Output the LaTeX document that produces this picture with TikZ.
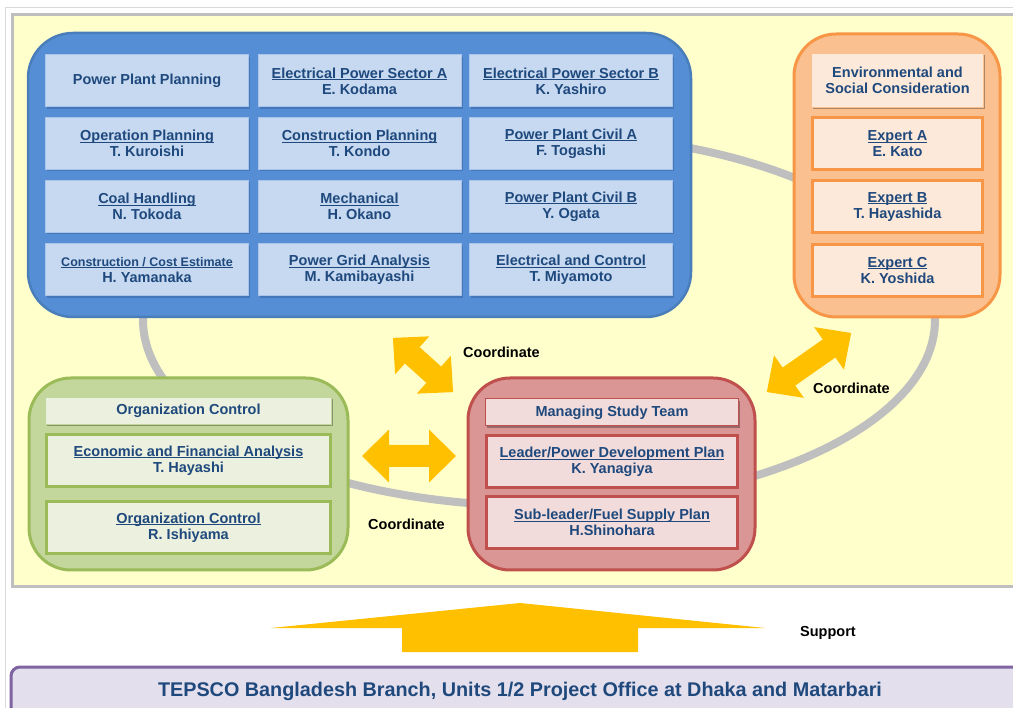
\documentclass[tikz,border=0pt]{standalone}
\usepackage{fontspec}
\setmainfont{Liberation Sans}
\usetikzlibrary{shadows}
\definecolor{tx}{HTML}{1F497D}
\definecolor{panelc}{HTML}{FFFFCC}
\definecolor{panelb}{HTML}{BFBFBF}
\definecolor{framec}{HTML}{D9D9D9}
\definecolor{ringc}{HTML}{BFBFBF}
\definecolor{bluef}{HTML}{558ED5}
\definecolor{blueb}{HTML}{4A7EBB}
\definecolor{bluec}{HTML}{C6D9F1}
\definecolor{bluecb}{HTML}{A9C4E8}
\definecolor{blues}{HTML}{3A66A8}
\definecolor{orf}{HTML}{FAC090}
\definecolor{orb}{HTML}{F79646}
\definecolor{orc}{HTML}{FDE9D9}
\definecolor{grf}{HTML}{C3D69B}
\definecolor{grb}{HTML}{9BBB59}
\definecolor{grc}{HTML}{EBF1DE}
\definecolor{rdf}{HTML}{D99694}
\definecolor{rdb}{HTML}{C0504D}
\definecolor{rdc}{HTML}{F2DCDB}
\definecolor{arrowc}{HTML}{FFC000}
\definecolor{purf}{HTML}{E4DFEC}
\definecolor{purb}{HTML}{8064A2}
\newcommand\cellf{\fontsize{14.5}{16}\selectfont\bfseries}
\newcommand\ulin[1]{\setbox0=\hbox{#1}\rlap{\rule[-1.8pt]{\wd0}{0.9pt}}\box0}
\newcommand\dblarr[7]{%
  \fill[arrowc, shift={(#1,#2)}, rotate=#3]
  ({-(#4)/2},0) -- ({-(#4)/2+#7},#6) -- ({-(#4)/2+#7},#5) -- ({(#4)/2-#7},#5)
  -- ({(#4)/2-#7},#6) -- ({(#4)/2},0) -- ({(#4)/2-#7},-#6) -- ({(#4)/2-#7},-#5)
  -- ({-(#4)/2+#7},-#5) -- ({-(#4)/2+#7},-#6) -- cycle;}
\tikzset{
  grp/.style={rounded corners=42pt, line width=3pt, inner sep=0pt},
  cellbase/.style={inner sep=0pt, align=center, font=\cellf, text=tx},
  bcell/.style={cellbase, draw=bluecb, line width=1pt, fill=bluec,
    minimum width=203pt, minimum height=52pt,
    drop shadow={shadow xshift=1.5pt, shadow yshift=-2pt, fill=blues, opacity=0.6}},
  ohead/.style={cellbase, draw=orb!60, line width=1pt, fill=orc,
    minimum width=172pt, minimum height=54pt,
    drop shadow={shadow xshift=1.5pt, shadow yshift=-2pt, fill=black, opacity=0.3}},
  ocell/.style={cellbase, draw=orb, line width=3pt, fill=orc,
    minimum width=170pt, minimum height=52pt},
  ghead/.style={cellbase, draw=grb!60, line width=1pt, fill=grc,
    minimum width=286pt, minimum height=27pt,
    drop shadow={shadow xshift=1.5pt, shadow yshift=-2pt, fill=black, opacity=0.3}},
  gcell/.style={cellbase, draw=grb, line width=3pt, fill=grc,
    minimum width=284pt, minimum height=52pt},
  rhead/.style={cellbase, draw=rdb, line width=1pt, fill=rdc,
    minimum width=253pt, minimum height=27pt,
    drop shadow={shadow xshift=1.5pt, shadow yshift=-2pt, fill=black, opacity=0.3}},
  rcell/.style={cellbase, draw=rdb, line width=3pt, fill=rdc,
    minimum width=251pt, minimum height=52pt},
  coordlbl/.style={anchor=west, inner sep=0pt, font=\cellf, text=black},
}
\begin{document}
\begin{tikzpicture}[x=1pt, y=-1pt]
\clip (0,0) rectangle (1013,708);
\fill[white] (0,0) rectangle (1013,708);
% page frame
\draw[framec, line width=1pt] (5,708) -- (5,8) -- (1013,8);
% yellow panel
\draw[panelb, fill=panelc, line width=3pt] (12,15) rectangle (1040,587);
% ring behind the groups
\draw[ringc, line width=8pt] (539,320) ellipse [x radius=396pt, y radius=186pt];

% groups
\node[grp, draw=blueb, fill=bluef, line width=2.5pt, rounded corners=45pt,
  minimum width=663pt, minimum height=284pt] (blue) at (359.5,175) {};
\node[grp, draw=orb, fill=orf, minimum width=206pt, minimum height=283pt] (orange) at (897,175.5) {};
\node[grp, draw=grb, fill=grf, minimum width=319pt, minimum height=192pt] (green) at (188.5,474) {};
\node[grp, draw=rdb, fill=rdf, minimum width=287pt, minimum height=192pt] (red) at (611.5,474) {};

% blue cells
\node[bcell] (b11) at (147,81) {\raisebox{-1.5pt}{Power Plant Planning}};
\node[bcell] (b12) at (359.5,81) {\ulin{Electrical Power Sector A}\\E. Kodama};
\node[bcell] (b13) at (571,81) {\ulin{Electrical Power Sector B}\\K. Yashiro};
\node[bcell] (b21) at (147,143.5) {\ulin{Operation Planning}\\T. Kuroishi};
\node[bcell] (b22) at (359.5,143.5) {\ulin{Construction Planning}\\T. Kondo};
\node[bcell] (b23) at (571,143.5) {\ulin{Power Plant Civil A}\\F. Togashi};
\node[bcell] (b31) at (147,206.5) {\ulin{Coal Handling}\\N. Tokoda};
\node[bcell] (b32) at (359.5,206.5) {\ulin{Mechanical}\\H. Okano};
\node[bcell] (b33) at (571,206.5) {\ulin{Power Plant Civil B}\\Y. Ogata};
\node[bcell] (b41) at (147,270) {{\fontsize{12.5}{14}\selectfont\ulin{Construction / Cost Estimate}}\\H. Yamanaka};
\node[bcell] (b42) at (359.5,270) {\ulin{Power Grid Analysis}\\M. Kamibayashi};
\node[bcell] (b43) at (571,270) {\ulin{Electrical and Control}\\T. Miyamoto};

% orange cells
\node[ohead] (o1) at (897.5,80.5) {Environmental and\\Social Consideration};
\node[ocell] (o2) at (897.5,144) {\ulin{Expert A}\\E. Kato};
\node[ocell] (o3) at (897.5,207) {\ulin{Expert B}\\T. Hayashida};
\node[ocell] (o4) at (897.5,270.5) {\ulin{Expert C}\\K. Yoshida};

% green cells
\node[ghead] (g1) at (188.5,411) {Organization Control};
\node[gcell] (g2) at (188.5,460.5) {\ulin{Economic and Financial Analysis}\\T. Hayashi};
\node[gcell] (g3) at (188.5,527.5) {\ulin{Organization Control}\\R. Ishiyama};

% red cells
\node[rhead] (r1) at (612,412.5) {Managing Study Team};
\node[rcell] (r2) at (612,462) {\ulin{Leader/Power Development Plan}\\K. Yanagiya};
\node[rcell] (r3) at (612,522.5) {\ulin{Sub-leader/Fuel Supply Plan}\\H.Shinohara};

% coordinate arrows
\dblarr{423}{365}{-42}{81}{11}{25.5}{26}
\dblarr{409}{456}{0}{94}{11}{26.5}{27}
\dblarr{809}{362.5}{35}{103}{11}{26}{27}

\node[coordlbl] (c1) at (463,352) {Coordinate};
\node[coordlbl] (c2) at (813,388) {Coordinate};
\node[coordlbl] (c3) at (368,524) {Coordinate};

% support arrow
\fill[arrowc] (271,628) -- (520,603) -- (765,628) -- (638,628) -- (638,652)
  -- (402,652) -- (402,628) -- cycle;
\node[coordlbl] (sup) at (800,633) {Support};

% bottom bar
\draw[purb, fill=purf, line width=3pt, rounded corners=9pt] (11,667) rectangle (1040,730);
\node[inner sep=0pt, text=tx, font=\fontsize{19.8}{22}\selectfont\bfseries] (tepsco) at (520,691)
  {TEPSCO Bangladesh Branch, Units 1/2 Project Office at Dhaka and Matarbari};
\end{tikzpicture}
\end{document}
